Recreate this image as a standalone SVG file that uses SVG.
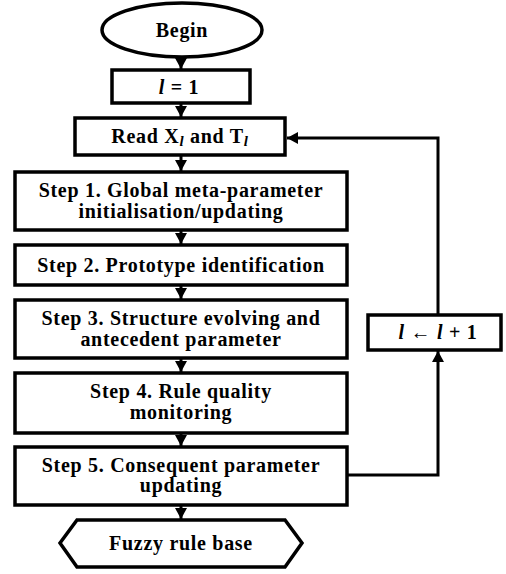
<svg xmlns="http://www.w3.org/2000/svg" width="506" height="574" viewBox="0 0 506 574">
<style>
.box{fill:#fff;stroke:#000;stroke-width:3.5}
.t{font-family:"Liberation Serif","Times New Roman",serif;font-weight:bold;font-size:20px;letter-spacing:0.7px;fill:#000;text-anchor:middle}
.m{font-style:italic}
.c{fill:none;stroke:#000;stroke-width:3}
</style>
<defs>
<marker id="ah" markerUnits="userSpaceOnUse" markerWidth="12" markerHeight="12" viewBox="0 0 12 12" refX="11" refY="6" orient="auto">
<path d="M0,0 L11,6 L0,12 Z" fill="#000"/>
</marker>
</defs>
<g id="connectors">
<line class="c" x1="181" y1="57" x2="181" y2="69" marker-end="url(#ah)"/>
<line class="c" x1="181" y1="103" x2="181" y2="117" marker-end="url(#ah)"/>
<line class="c" x1="181" y1="155" x2="181" y2="171" marker-end="url(#ah)"/>
<line class="c" x1="181" y1="230" x2="181" y2="244" marker-end="url(#ah)"/>
<line class="c" x1="181" y1="285" x2="181" y2="299" marker-end="url(#ah)"/>
<line class="c" x1="181" y1="358" x2="181" y2="372" marker-end="url(#ah)"/>
<line class="c" x1="181" y1="433" x2="181" y2="446" marker-end="url(#ah)"/>
<line class="c" x1="181" y1="505" x2="181" y2="519" marker-end="url(#ah)"/>
<polyline class="c" points="347,475 438,475 438,351" marker-end="url(#ah)"/>
<polyline class="c" points="438,315 438,138 287,138" marker-end="url(#ah)"/>
</g>
<g id="begin">
<ellipse class="box" cx="182" cy="30" rx="80" ry="27"/>
<text class="t" x="182" y="37">Begin</text>
</g>
<g id="init">
<rect class="box" x="112" y="70" width="138" height="33"/>
<text class="t" x="179" y="94"><tspan class="m">l</tspan> = 1</text>
</g>
<g id="read">
<rect class="box" x="75" y="118" width="210" height="37"/>
<text class="t" x="180" y="143">Read X<tspan class="m" font-size="15" dy="3">l</tspan><tspan dy="-3"> and T</tspan><tspan class="m" font-size="15" dy="3">l</tspan></text>
</g>
<g id="step1">
<rect class="box" x="15" y="172" width="332" height="58"/>
<text class="t" x="181" y="197">Step 1. Global meta-parameter</text>
<text class="t" x="181" y="218">initialisation/updating</text>
</g>
<g id="step2">
<rect class="box" x="15" y="245" width="332" height="40"/>
<text class="t" x="181" y="272">Step 2. Prototype identification</text>
</g>
<g id="step3">
<rect class="box" x="15" y="300" width="332" height="58"/>
<text class="t" x="181" y="325">Step 3. Structure evolving and</text>
<text class="t" x="181" y="346">antecedent parameter</text>
</g>
<g id="step4">
<rect class="box" x="15" y="373" width="332" height="60"/>
<text class="t" x="181" y="398">Step 4. Rule quality</text>
<text class="t" x="181" y="419">monitoring</text>
</g>
<g id="step5">
<rect class="box" x="15" y="447" width="332" height="58"/>
<text class="t" x="181" y="472">Step 5. Consequent parameter</text>
<text class="t" x="181" y="492">updating</text>
</g>
<g id="fuzzy">
<polygon class="box" points="77,520 285,520 302,543 285,567 77,567 60,543"/>
<text class="t" x="181" y="550">Fuzzy rule base</text>
</g>
<g id="incr">
<rect class="box" x="368" y="315" width="133" height="35"/>
<text class="t" x="438" y="339"><tspan class="m">l</tspan> ← <tspan class="m">l</tspan> + 1</text>
</g>
</svg>
